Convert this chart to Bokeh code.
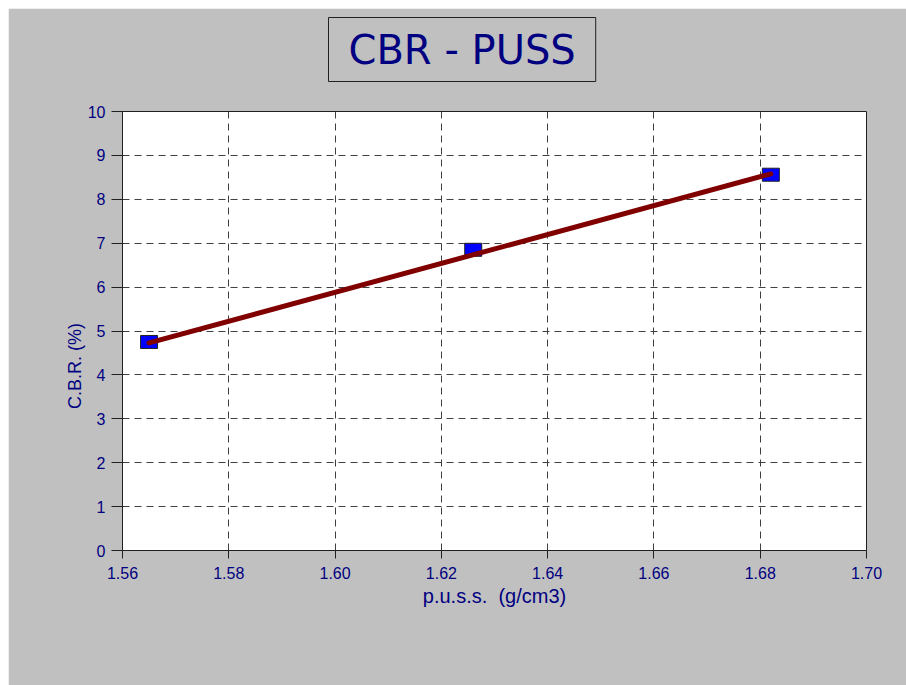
from bokeh.plotting import figure
from bokeh.models import Range1d, FixedTicker, NumeralTickFormatter, Spacer, Title
from bokeh.layouts import row, column
from bokeh.embed import file_html
from bokeh.resources import INLINE

# data
density = [1.565, 1.626, 1.682]          # p.u.s.s. (g/cm3)
cbr = [4.75, 6.85, 8.56]                 # C.B.R. (%)
trend_x = [1.565, 1.682]
trend_y = [4.73, 8.58]
x_ticks = [1.56, 1.58, 1.60, 1.62, 1.64, 1.66, 1.68, 1.70]
y_ticks = [0, 1, 2, 3, 4, 5, 6, 7, 8, 9, 10]

NAVY = "#000080"
GRAY = "#C0C0C0"

p = figure(width=898, height=677, output_backend="svg", toolbar_location=None,
           x_range=Range1d(1.56, 1.70), y_range=Range1d(0, 10),
           min_border_left=114, min_border_right=40,
           min_border_top=103, min_border_bottom=135)

# gap between plot area and title box
p.add_layout(Title(text="\u00a0", text_font_size="10px", standoff=17,
                   text_color=GRAY), "above")
p.add_layout(Title(text="CBR - PUSS", align="left", offset=206, text_font="DejaVu Sans",
                   text_font_size="40px", text_font_style="normal", text_color=NAVY,
                   background_fill_color=GRAY, border_line_color="#202020",
                   border_line_width=1,
                   padding=dict(left=20, right=20, top=9, bottom=9), standoff=0), "above")

p.background_fill_color = "white"
p.border_fill_color = GRAY
p.outline_line_color = "#202020"
p.outline_line_width = 1

p.xaxis.ticker = FixedTicker(ticks=x_ticks)
p.yaxis.ticker = FixedTicker(ticks=y_ticks)
p.xaxis.formatter = NumeralTickFormatter(format="0.00")
p.xaxis.minor_tick_line_color = None
p.yaxis.minor_tick_line_color = None
for ax in (p.xaxis, p.yaxis):
    ax.axis_line_color = "#202020"
    ax.major_tick_line_color = "#202020"
    ax.major_tick_in = 0
    ax.major_label_text_color = NAVY
    ax.major_label_text_font = "Liberation Sans"
    ax.major_label_text_font_size = "16px"
    ax.axis_label_text_color = NAVY
    ax.axis_label_text_font = "Liberation Sans"
    ax.axis_label_text_font_style = "normal"
p.xaxis.major_tick_out = 8
p.yaxis.major_tick_out = 11

p.xaxis.axis_label = "p.u.s.s.\u00a0\u00a0(g/cm3)"
p.xaxis.axis_label_text_font_size = "20px"
p.xaxis.major_label_standoff = 8
p.xaxis.axis_label_standoff = 3
p.yaxis.axis_label = "C.B.R. (%)" + "\u00a0" * 14
p.yaxis.axis_label_text_font_size = "18px"
p.yaxis.major_label_standoff = 6
p.yaxis.axis_label_standoff = 0

p.xgrid.grid_line_color = "#404040"
p.ygrid.grid_line_color = "#404040"
p.xgrid.grid_line_dash = "7 5"
p.ygrid.grid_line_dash = "7 5"

p.rect(density, cbr, width=17, height=13, width_units="screen", height_units="screen",
       fill_color="#0000FF", line_color="#202020", line_width=1)
p.line(trend_x, trend_y, line_color="#800000", line_width=5, line_cap="round")

layout = row(Spacer(width=8), column(Spacer(height=8), p))
open("out.html", "w").write(file_html(layout, INLINE))
